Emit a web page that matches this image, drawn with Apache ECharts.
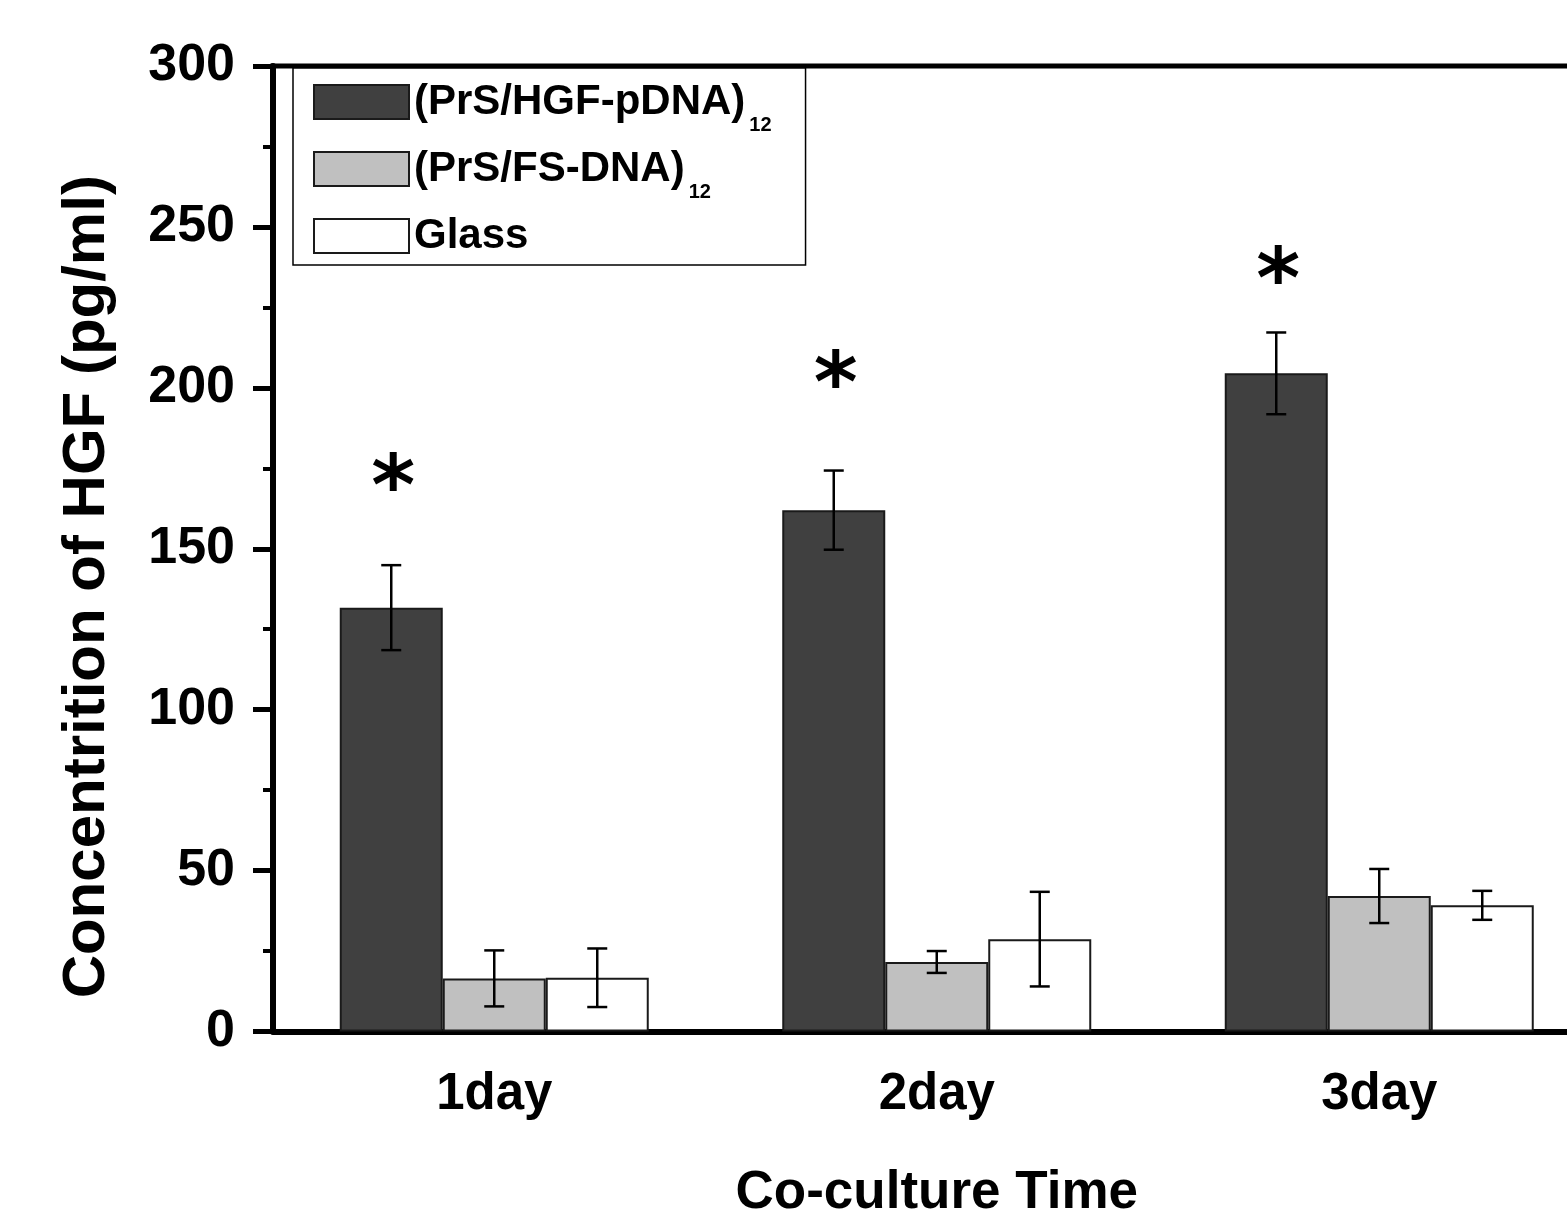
<!DOCTYPE html>
<html>
<head>
<meta charset="utf-8">
<script src="https://cdn.jsdelivr.net/npm/echarts@6/dist/echarts.min.js"></script>
<style>
  html, body { margin: 0; padding: 0; background: #fff; }
  #chart { width: 1567px; height: 1214px; }
</style>
</head>
<body>
<div id="chart"></div>
<script>
// categories on the x axis
const days = ["1day", "2day", "3day"];

// series names (the "12" subscript is added in the legend formatter)
const seriesNames = ["(PrS/HGF-pDNA)", "(PrS/FS-DNA)", "Glass"];

// mean HGF concentration (pg/ml) per day
const hgfPDNA = [131.7, 162.0, 204.5];
const fsDNA = [16.5, 21.6, 42.1];
const glass = [16.7, 28.7, 39.2];

// error bar half-lengths
const hgfPDNAErr = [13.2, 12.3, 12.7];
const fsDNAErr = [8.7, 3.4, 8.4];
const glassErr = [9.1, 14.7, 4.5];

// asterisk heights (significance marks above the first series)
const starY = [172.9, 204.9, 237.2];

// y ticks
const yMin = 0, yMax = 300, yStep = 50;

const FONT = "'Liberation Sans', Arial, sans-serif";
const BAR_W = 103;
const fills = ["#404040", "#c0c0c0", "#ffffff"];

const means = [hgfPDNA, fsDNA, glass];
const errs = [hgfPDNAErr, fsDNAErr, glassErr];

const errData = [];
means.forEach((arr, k) => {
  arr.forEach((v, i) => errData.push([i, v, errs[k][i], k]));
});
const starData = starY.map((v, i) => [i, v]);

const chart = echarts.init(document.getElementById("chart"));

function renderErr(params, api) {
  const cat = api.value(0);
  const mean = api.value(1);
  const err = api.value(2);
  const k = api.value(3);
  const c = api.coord([cat, mean]);
  const x = c[0] + (k - 1) * BAR_W;
  const top = api.coord([cat, mean + err])[1];
  const bot = api.coord([cat, mean - err])[1];
  const cap = 10;
  const st = { stroke: "#000", lineWidth: 2.5 };
  return {
    type: "group",
    children: [
      { type: "line", shape: { x1: x, y1: top, x2: x, y2: bot }, style: st },
      { type: "line", shape: { x1: x - cap, y1: top, x2: x + cap, y2: top }, style: st },
      { type: "line", shape: { x1: x - cap, y1: bot, x2: x + cap, y2: bot }, style: st }
    ]
  };
}

function renderStar(params, api) {
  const c = api.coord([api.value(0), api.value(1)]);
  return {
    type: "text",
    style: {
      text: "*",
      x: c[0] - BAR_W + 2,
      y: c[1] + 17,
      align: "center",
      verticalAlign: "middle",
      fill: "#000",
      font: "bold 84px 'DejaVu Sans', sans-serif"
    }
  };
}

const barSeries = seriesNames.map((name, k) => ({
  name: name,
  type: "bar",
  data: means[k],
  barWidth: BAR_W,
  barGap: "0%",
  itemStyle: { color: fills[k], borderColor: "#1a1a1a", borderWidth: 2 },
  z: 2
}));

const option = {
  animation: false,
  backgroundColor: "#fff",
  grid: {
    left: 273,
    top: 66,
    width: 1327.5,
    height: 965.5,
    show: true,
    borderColor: "#000",
    borderWidth: 5,
    containLabel: false,
    outerBoundsMode: "none"
  },
  legend: {
    orient: "vertical",
    left: 293,
    top: 68,
    selectedMode: false,
    itemWidth: 95,
    itemHeight: 34,
    itemGap: 13,
    icon: "rect",
    borderColor: "#000",
    borderWidth: 1.5,
    padding: [13, 34, 8, 20],
    backgroundColor: "#fff",
    data: seriesNames,
    formatter: (name) => {
      if (name === "Glass") return "{a|" + name + "}";
      return "{a|" + name + "}{s|12}";
    },
    textStyle: {
      fontFamily: FONT,
      fontWeight: "bold",
      fontSize: 42,
      lineHeight: 34,
      color: "#000",
      rich: {
        a: { fontFamily: FONT, fontWeight: "bold", fontSize: 42, lineHeight: 34, color: "#000" },
        s: {
          fontFamily: FONT, fontWeight: "bold", fontSize: 20, lineHeight: 20,
          verticalAlign: "bottom", padding: [0, 0, -16, 4], color: "#000"
        }
      }
    }
  },
  xAxis: {
    type: "category",
    data: days,
    name: "Co-culture Time",
    nameLocation: "middle",
    nameGap: 135,
    nameTextStyle: { fontFamily: FONT, fontWeight: "bold", fontSize: 53, color: "#000" },
    axisLine: { lineStyle: { color: "#000", width: 6 } },
    axisTick: { alignWithLabel: true, length: 20, lineStyle: { color: "#000", width: 6 } },
    axisLabel: { margin: 38, fontFamily: FONT, fontWeight: "bold", fontSize: 51, color: "#000" },
    splitLine: { show: false }
  },
  yAxis: {
    type: "value",
    min: yMin,
    max: yMax,
    interval: yStep,
    name: "Concentrition of HGF (pg/ml)",
    nameLocation: "middle",
    nameGap: 156,
    nameTextStyle: {
      fontFamily: FONT, fontWeight: "bold", fontSize: 60, color: "#000",
      padding: [0, 76, 0, 0]
    },
    axisLine: { show: true, lineStyle: { color: "#000", width: 6 } },
    axisTick: { show: true, length: 20, lineStyle: { color: "#000", width: 5 } },
    minorTick: { show: true, splitNumber: 2, length: 10, lineStyle: { color: "#000", width: 4 } },
    axisLabel: { margin: 38, fontFamily: FONT, fontWeight: "bold", fontSize: 52, color: "#000" },
    splitLine: { show: false }
  },
  series: barSeries.concat([
    {
      type: "custom",
      name: "err",
      renderItem: renderErr,
      data: errData,
      z: 5,
      silent: true
    },
    {
      type: "custom",
      name: "star",
      renderItem: renderStar,
      data: starData,
      z: 5,
      silent: true
    }
  ])
};

chart.setOption(option);
</script>
</body>
</html>
